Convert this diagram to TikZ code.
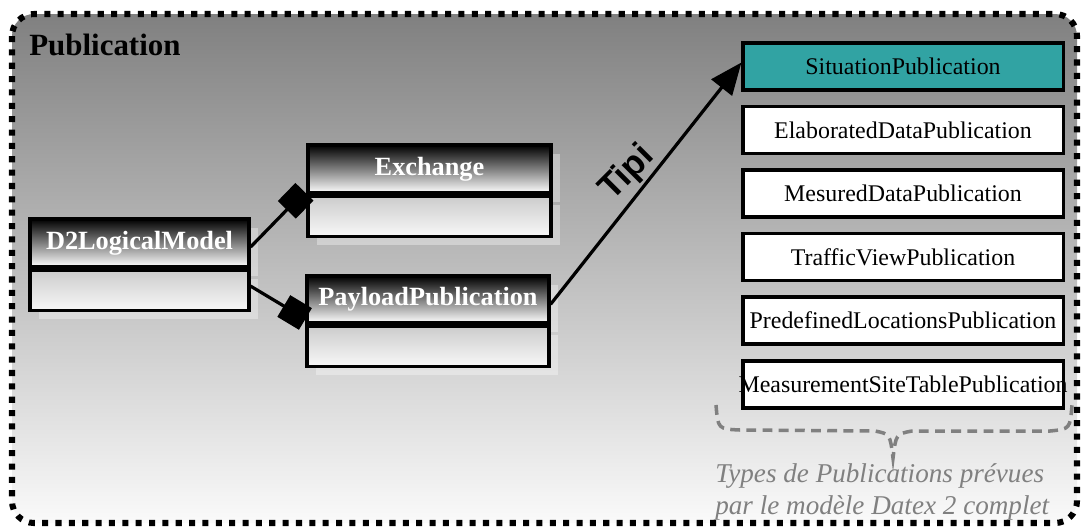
\documentclass[tikz,border=0pt]{standalone}
\usepackage{fontspec}
\setmainfont{Liberation Serif}
\newfontfamily\tipifont{Liberation Sans}
\usetikzlibrary{positioning,arrows.meta,shadows}

\definecolor{bgtop}{RGB}{128,128,128}
\definecolor{bgbottom}{RGB}{250,250,250}
\definecolor{situcolor}{RGB}{49,163,163}
\definecolor{notegray}{RGB}{128,128,128}

\tikzset{
  boxshadow/.style={drop shadow={shadow xshift=0.22cm, shadow yshift=-0.22cm, fill=white, opacity=.35}},
  classhead/.style={draw, line width=2.2pt, inner sep=0pt, minimum width=#1, minimum height=1.2cm,
    top color=black, bottom color=white, text=white, boxshadow,
    font=\bfseries\fontsize{18.7}{22}\selectfont},
  classbody/.style={draw, line width=2.2pt, inner sep=0pt, minimum width=#1, minimum height=1cm,
    top color=black!20, bottom color=white!97!black, boxshadow},
  pubbox/.style={draw, line width=2.2pt, fill=white, inner sep=0pt, minimum width=8cm,
    minimum height=1.175cm, font=\fontsize{17}{20}\selectfont},
  compo/.style={line width=2.3pt, -{Square[length=0.63cm,width=0.63cm]}},
}

\begin{document}
\begin{tikzpicture}[x=0.025cm, y=-0.025cm]
		\useasboundingbox (0,0) rectangle (1082,527);

		% package frame
		\shade[top color=bgtop, bottom color=bgbottom, rounded corners=0.55cm] (12,14) rectangle (1077,523);
		\draw[line width=4.3pt, dash pattern=on 4.3pt off 5.2pt, rounded corners=0.55cm] (12,14) rectangle (1077,523);
		\node[anchor=base west, inner sep=0pt, font=\bfseries\fontsize{22}{26}\selectfont] (title) at (29,55) {Publication};

		% classes
		\node[classhead=5.475cm] (d2h) at (139.5,243) {D2LogicalModel};
		\node[classbody=5.475cm, below=0pt of d2h] (d2b) {};
		\node[classhead=6.075cm] (exh) at (429.5,169) {Exchange};
		\node[classbody=6.075cm, below=0pt of exh] (exb) {};
		\node[classhead=6.05cm, minimum height=1.175cm] (pay) at (428,299.5) {PayloadPublication};
		\node[classbody=6.05cm, below=0pt of pay] (payb) {};

		% publication types
		\node[pubbox, fill=situcolor] (sit) at (903,66.5) {SituationPublication};
		\node[pubbox] (ela) at (903,130) {ElaboratedDataPublication};
		\node[pubbox] (mes) at (903,193.5) {MesuredDataPublication};
		\node[pubbox] (tra) at (903,257) {TrafficViewPublication};
		\node[pubbox] (pre) at (903,320.5) {PredefinedLocationsPublication};
		\node[pubbox] (mst) at (903,384.5) {\makebox[0pt]{MeasurementSiteTablePublication}};

		% links
		\draw[compo] ([yshift=-0.1cm]d2h.east) -- ([shift={(-0.05cm,0.07cm)}]exh.south west);
		\draw[compo] ([yshift=0.1cm]d2b.east) -- ([yshift=0.14cm]pay.south west);
		\draw[line width=2.3pt, -{Triangle[length=0.8cm,width=0.65cm]}] ([yshift=-0.12cm]pay.east) -- ([yshift=0.1cm]sit.west)
			node[pos=.48, anchor=south, rotate=45, inner sep=2pt, font=\tipifont\bfseries\fontsize{25}{28}\selectfont] (tipi) {Tipi};

		% note
		\draw[notegray, line width=2.5pt, dash pattern=on 7pt off 4.5pt]
			(716,405) .. controls (718,429) .. (740,430) -- (875,431)
			.. controls (890,434) .. (893,458) .. controls (896,434) .. (912,431)
			-- (1050,431) .. controls (1070,429) .. (1072,405);
		\node[anchor=north west, inner sep=0pt, align=left, text=notegray,
			font=\itshape\fontsize{19.3}{22.8}\selectfont] (note) at (715,463)
			{Types de Publications prévues\\par le modèle Datex 2 complet};
	\end{tikzpicture}
\end{document}
